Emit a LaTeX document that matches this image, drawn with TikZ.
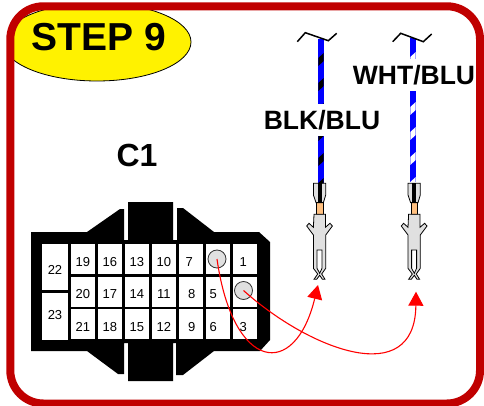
\documentclass[tikz,border=0pt]{standalone}
\usepackage{fontspec}
\setmainfont{Liberation Sans}
\usetikzlibrary{positioning}
\usetikzlibrary{arrows.meta}
\usetikzlibrary{shapes.geometric}
\definecolor{framered}{HTML}{C00000}
\definecolor{pingrey}{HTML}{E0E0E0}
\definecolor{neckorange}{HTML}{FFC080}
\tikzset{
  cell/.style={fill=white,inner sep=0pt,outer sep=0pt,minimum width=24.3pt,minimum height=30pt,text height=14pt,text depth=0pt,font=\fontsize{13}{13}\selectfont},
  pin/.style={circle,draw=black!80,line width=0.8pt,fill=pingrey,minimum size=18pt,inner sep=0pt},
  wirelabel/.style={fill=white,inner xsep=1pt,inner ysep=0pt,minimum height=32pt,font=\fontsize{26.5}{26.5}\selectfont\bfseries},
  pics/wire/.style={code={
    \fill[blue] (-2.7,0) rectangle (2.7,144);
    \foreach \y in {20,45,70,95,120,145}
      \fill[#1] (-2.7,\y+7) -- (2.7,\y+2) -- (2.7,\y-6) -- (-2.7,\y-1) -- cycle;
  }},
  pics/terminal/.style={code={
    \draw[line width=0.8pt,fill=neckorange] (-3.3,-0.7) rectangle (3.3,11);
    \draw[line width=0.8pt,fill=pingrey] (-6.3,-20) -- (6,-20) -- (6,-8.3) -- (3.7,-0.7) -- (-3.7,-0.7) -- (-6.3,-8.3) -- cycle;
    \fill (-2,-20) rectangle (2,-0.7);
    \draw[line width=0.8pt,fill=pingrey] (-5.7,11) -- (5.7,11) -- (5.7,24) -- (10.3,20) -- (12.7,22.7) -- (6,31.7) -- (6,65) -- (2,70.7) -- (5.3,76) -- (2.7,76) -- (0,72) -- (-3,76) -- (-5.7,76) -- (-2,70.7) -- (-6.3,65) -- (-6.3,31.7) -- (-13,22.7) -- (-10.7,20) -- (-6.3,24) -- cycle;
    \draw[line width=0.8pt,fill=white] (-2.7,46.7) -- (2.3,46.7) -- (2.3,65) -- (0,70) -- (-2.7,65) -- cycle;
  }}
}
\begin{document}
\begin{tikzpicture}[x=1pt,y=-1pt,node distance=2.7pt]
        \useasboundingbox (0,0) rectangle (484,406);
        \begin{scope}
          \clip[rounded corners=33pt] (10.3,6.3) rectangle (480,403.5);
          \node[ellipse,draw=black,line width=0.8pt,fill=yellow,minimum width=188pt,minimum height=78pt,inner sep=0pt] (badge) at (97,42) {};
        \end{scope}
        \node[draw=framered,line width=8pt,rounded corners=33pt,inner sep=0pt,outer sep=0pt,minimum width=469.7pt,minimum height=397.2pt] (frame) at (245.15,204.9) {};
        \node[font=\fontsize{39}{39}\selectfont\bfseries] (step) at (99,37) {STEP 9};
        \node[font=\fontsize{32}{32}\selectfont\bfseries] (conn) at (137,155) {C1};

        % connector body
        \fill (31,232) -- (87,232) -- (120,209) -- (124,209) -- (124,240) -- (128,240) -- (128,202) -- (173,202) -- (173,240) -- (177,240) -- (177,208) -- (183,208) -- (214,232) -- (259,232) -- (270,242) -- (270,340) -- (260,351) -- (214,351) -- (183,375) -- (176,375) -- (176,343) -- (173,343) -- (173,381) -- (128,381) -- (128,343) -- (124,343) -- (124,374) -- (118,374) -- (87,351) -- (31,351) -- cycle;

        \node[cell,anchor=north west]  (c19) at (70.7,244) {19};
        \node[cell]  (c16) [right=of c19] {16};
        \node[cell]  (c13) [right=of c16] {13};
        \node[cell]  (c10) [right=of c13] {10};
        \node[cell]  (c7) [right=of c10] {7\kern3pt};
        \node[cell]  (c2) [right=of c7] {};
        \node[cell]  (c1) [right=of c2] {1\kern3pt};
        \node[cell]  (c20) [below=of c19] {20};
        \node[cell]  (c17) [right=of c20] {17};
        \node[cell]  (c14) [right=of c17] {14};
        \node[cell]  (c11) [right=of c14] {11};
        \node[cell]  (c8) [right=of c11] {\kern2pt 8};
        \node[cell]  (c5) [right=of c8] {5\kern9pt};
        \node[cell]  (c4) [right=of c5] {};
        \node[cell]  (c21) [below=of c20] {21};
        \node[cell]  (c18) [right=of c21] {18};
        \node[cell]  (c15) [right=of c18] {15};
        \node[cell]  (c12) [right=of c15] {12};
        \node[cell]  (c9) [right=of c12] {\kern2pt 9};
        \node[cell]  (c6) [right=of c9] {6\kern9pt};
        \node[cell]  (c3) [right=of c6] {3\kern3pt};
        \node[cell,minimum width=26pt,minimum height=46pt]  (c22) [left=2.7pt of c19.north west,anchor=north east] {22};
        \node[cell,minimum width=26pt,minimum height=47pt]  (c23) [below=3pt of c22] {\raisebox{4pt}{23}};

        \node[pin]  (pinA) at (217,259) {};
        \node[pin]  (pinB) at (243.5,290.5) {};

        % wires
        \pic at (321,39) {wire=black};
        \pic at (413,38) {wire=white};
        \draw[line width=1.5pt] (297.3,41.7) -- (305.3,32.7) -- (328.3,40.7) -- (336.7,33.3);
        \draw[line width=1.5pt] (392.7,41.7) -- (400.7,33.3) -- (423.3,41.7) -- (431.7,34);
        \node[wirelabel]  (blk) at (322,120) {BLK/BLU};
        \node[wirelabel]  (wht) at (414,75) {WHT/BLU};
        \pic at (319.7,203.3) {terminal};
        \pic at (414.3,203.3) {terminal};

        \coordinate (tipA) at (318,285);
        \coordinate (tipB) at (416,291.7);
        \draw[red,line width=1.1pt,-{Triangle[length=14pt,width=15pt]}] (pinA.center) .. controls (233,372) and (295,380) .. (tipA);
        \draw[red,line width=1.1pt,-{Triangle[length=14pt,width=15pt]}] (pinB.center) .. controls (310,350) and (415,390) .. (tipB);
\end{tikzpicture}
\end{document}
